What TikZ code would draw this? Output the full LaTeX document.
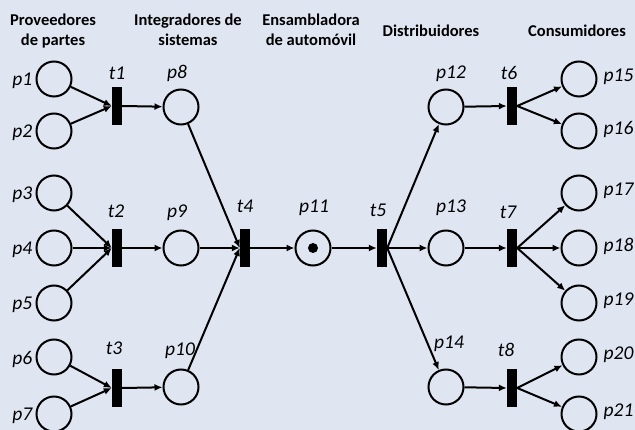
\documentclass[tikz,border=0pt]{standalone}
\usepackage{fontspec}
\setmainfont{Carlito}
\usetikzlibrary{arrows.meta}
\definecolor{bg}{RGB}{223,230,242}
\begin{document}
\begin{tikzpicture}[x=1pt,y=-1pt,
 place/.style={circle,draw,line width=2pt,minimum size=35pt,inner sep=0pt},
 trans/.style={rectangle,fill=black,minimum width=10pt,minimum height=38pt,inner sep=0pt},
 arr/.style={-{Latex[length=8pt,width=7pt]},line width=2pt},
 lab/.style={font=\fontsize{19.5}{22}\selectfont\itshape,inner sep=0pt},
 toplab/.style={lab,anchor=base},
 llab/.style={lab,label distance=3pt,yshift=-2pt},
 rlab/.style={lab,label distance=6pt,yshift=2pt},
 head/.style={font=\fontsize{16.5}{20}\selectfont\bfseries,align=center,inner sep=0pt,anchor=base}]
\fill[bg] (0,0) rectangle (635,430);
\useasboundingbox (0,0) rectangle (635,430);
% headers
\node[head] (h1) at (53,46) {Proveedores\\de partes};
\node[head] (h2) at (188,46) {Integradores de\\sistemas};
\node[head] (h3) at (311,46) {Ensambladora\\de automóvil};
\node[head] (h4) at (431,37) {Distribuidores};
\node[head] (h5) at (577,37) {Consumidores};
% places left
\node[place,label={[llab]left:p1}] (p1) at (54,79) {};
\node[place,label={[llab]left:p2}] (p2) at (54,131) {};
\node[place,label={[llab]left:p3}] (p3) at (54,193) {};
\node[place,label={[llab]left:p4}] (p4) at (54,248) {};
\node[place,label={[llab]left:p5}] (p5) at (54,303) {};
\node[place,label={[llab]left:p6}] (p6) at (54,357) {};
\node[place,label={[llab]left:p7}] (p7) at (54,414) {};
% transitions and inner places
\node[trans] (t1) at (117,106) {};
\node[trans] (t2) at (117,248) {};
\node[trans] (t3) at (117,388) {};
\node[place] (p8) at (181,107) {};
\node[place] (p9) at (181,248) {};
\node[place] (p10) at (181,387) {};
\node[trans] (t4) at (245,248) {};
\node[place] (p11) at (313,248) {};
\node[circle,fill=black,minimum size=10pt,inner sep=0pt] (tok) at (313,248) {};
\node[trans] (t5) at (382,248) {};
\node[place] (p12) at (446,107) {};
\node[place] (p13) at (446,248) {};
\node[place] (p14) at (446,387) {};
\node[trans] (t6) at (512,106) {};
\node[trans] (t7) at (512,248) {};
\node[trans] (t8) at (512,388) {};
% labels above
\node[toplab] (lt1) at (117,80) {t1};
\node[toplab] (lp8) at (177,79) {p8};
\node[toplab] (lp12) at (451,79) {p12};
\node[toplab] (lt6) at (509,80) {t6};
\node[toplab] (lt2) at (116,218) {t2};
\node[toplab] (lp9) at (177,218) {p9};
\node[toplab] (lt4) at (245,213) {t4};
\node[toplab] (lp11) at (314,213) {p11};
\node[toplab] (lt5) at (378,217) {t5};
\node[toplab] (lp13) at (451,213) {p13};
\node[toplab] (lt7) at (508,219) {t7};
\node[toplab] (lt3) at (114,355) {t3};
\node[toplab] (lp10) at (180,356) {p10};
\node[toplab] (lp14) at (449,349) {p14};
\node[toplab] (lt8) at (506,357) {t8};
% places right
\node[place,label={[rlab]right:p15}] (p15) at (579,79) {};
\node[place,label={[rlab]right:p16}] (p16) at (579,131) {};
\node[place,label={[rlab]right:p17}] (p17) at (579,193) {};
\node[place,label={[rlab]right:p18}] (p18) at (579,248) {};
\node[place,label={[rlab]right:p19}] (p19) at (579,303) {};
\node[place,label={[rlab]right:p20}] (p20) at (579,357) {};
\node[place,label={[rlab]right:p21}] (p21) at (579,414) {};
% arcs
\draw[arr] (p1) -- (t1.west);
\draw[arr] (p2) -- (t1.west);
\draw[arr] (p3) -- (t2.west);
\draw[arr] (p4) -- (t2.west);
\draw[arr] (p5) -- (t2.west);
\draw[arr] (p6) -- (t3.west);
\draw[arr] (p7) -- (t3.west);
\draw[arr] (t1.east) -- (p8);
\draw[arr] (t2.east) -- (p9);
\draw[arr] (t3.east) -- (p10);
\draw[arr] (p8) -- (t4.west);
\draw[arr] (p9) -- (t4.west);
\draw[arr] (p10) -- (t4.west);
\draw[arr] (t4.east) -- (p11);
\draw[arr] (p11) -- (t5.west);
\draw[arr] (t5.east) -- (p12);
\draw[arr] (t5.east) -- (p13);
\draw[arr] (t5.east) -- (p14);
\draw[arr] (p12) -- (t6.west);
\draw[arr] (p13) -- (t7.west);
\draw[arr] (p14) -- (t8.west);
\draw[arr] (t6.east) -- (p15);
\draw[arr] (t6.east) -- (p16);
\draw[arr] (t7.east) -- (p17);
\draw[arr] (t7.east) -- (p18);
\draw[arr] (t7.east) -- (p19);
\draw[arr] (t8.east) -- (p20);
\draw[arr] (t8.east) -- (p21);
\end{tikzpicture}
\end{document}
